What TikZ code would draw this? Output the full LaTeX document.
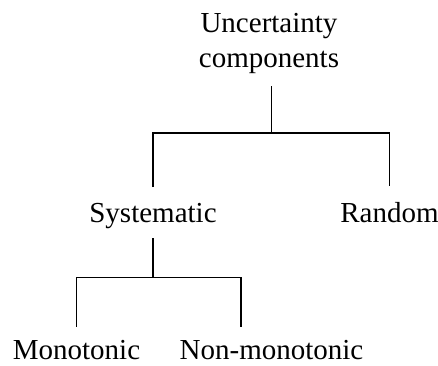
\documentclass[tikz,border=0pt]{standalone}
\usepackage{fontspec}
\setmainfont{Liberation Serif}
\usetikzlibrary{positioning}

\begin{document}
\begin{tikzpicture}[x=1pt,y=-1pt,
  lbl/.style={inner sep=0pt,font=\fontsize{29}{35}\selectfont},
  branch/.style={draw,line width=1.5pt}]
\useasboundingbox (0,0) rectangle (438,365);
\node[lbl,align=center,anchor=south] (unc) at (269,74.3) {Uncertainty\\components};
\node[lbl,anchor=base] (sys) at (153,222) {Systematic};
\node[lbl,anchor=base] (rnd) at (389.5,222) {Random};
\node[lbl,anchor=base] (mono) at (76.5,359) {Monotonic};
\node[lbl,anchor=base] (nmono) at (271.5,359) {Non-monotonic};
\coordinate (j1) at (271.5,133);
\coordinate (j2) at (153,277.5);
\path[branch]
([xshift=2.5pt,yshift=-11.7pt]unc.south) -- (j1)
([yshift=15.5pt]sys.north) |- (j1) -| ([yshift=15.5pt]rnd.north)
([yshift=-9.7pt]sys.south) -- (j2)
([yshift=12.8pt]mono.north) |- (j2) -| ([xshift=-30.5pt,yshift=12.8pt]nmono.north)
;
\end{tikzpicture}
\end{document}
